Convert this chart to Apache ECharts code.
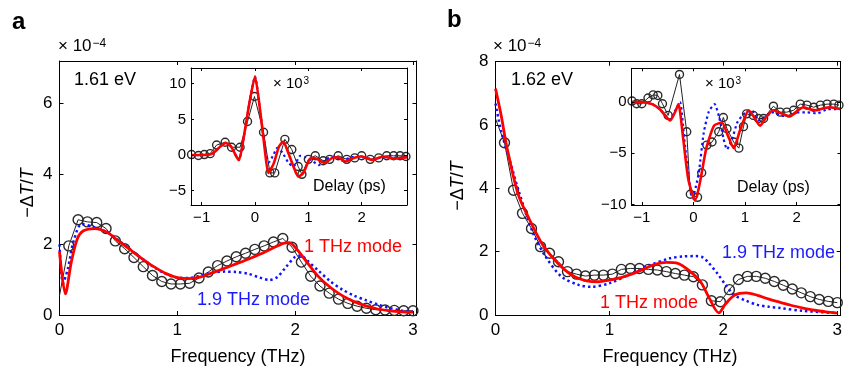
<!DOCTYPE html>
<html><head><meta charset="utf-8">
<script src="https://cdn.jsdelivr.net/npm/echarts@6/dist/echarts.min.js"></script>
<style>html,body{margin:0;padding:0;background:#fff}#c{width:845px;height:369px}</style>
</head><body><div id="c"></div>
<script>
// ---------- DATA ----------
const freqX = [0, 0.079, 0.158, 0.237, 0.316, 0.395, 0.474, 0.553, 0.632, 0.711, 0.789, 0.868, 0.947, 1.026, 1.105, 1.184, 1.263, 1.342, 1.421, 1.5, 1.579, 1.658, 1.737, 1.816, 1.895, 1.974, 2.053, 2.132, 2.211, 2.289, 2.368, 2.447, 2.526, 2.605, 2.684, 2.763, 2.842, 2.921, 3.0];
const measA = [0.55, 1.96, 2.70, 2.64, 2.62, 2.45, 2.10, 1.88, 1.63, 1.37, 1.12, 0.95, 0.88, 0.88, 0.90, 1.05, 1.22, 1.40, 1.53, 1.65, 1.75, 1.86, 1.96, 2.07, 2.17, 1.92, 1.50, 1.10, 0.82, 0.62, 0.45, 0.33, 0.25, 0.19, 0.15, 0.14, 0.13, 0.12, 0.12];
const measB = [6.2, 5.44, 3.94, 3.21, 2.73, 2.16, 1.95, 1.68, 1.37, 1.29, 1.23, 1.26, 1.26, 1.29, 1.44, 1.47, 1.47, 1.44, 1.42, 1.37, 1.31, 1.26, 1.21, 0.95, 0.45, 0.42, 0.80, 1.12, 1.22, 1.22, 1.16, 1.06, 0.94, 0.82, 0.70, 0.58, 0.49, 0.43, 0.39];

const redAx = [0, 0.05, 0.1, 0.15, 0.2, 0.3, 0.4, 0.5, 0.6, 0.7, 0.8, 0.9, 1.0, 1.1, 1.2, 1.3, 1.4, 1.5, 1.6, 1.7, 1.8, 1.9, 1.95, 2.0, 2.1, 2.2, 2.3, 2.4, 2.5, 2.6, 2.7, 2.8, 2.9, 3.0];
const redAy = [1.8, 0.6, 1.5, 2.15, 2.38, 2.45, 2.35, 2.1, 1.85, 1.6, 1.37, 1.18, 1.06, 1.03, 1.08, 1.2, 1.32, 1.45, 1.58, 1.72, 1.88, 2.03, 2.05, 1.92, 1.5, 1.08, 0.78, 0.55, 0.38, 0.26, 0.17, 0.12, 0.09, 0.08];
const blueAx = [0, 0.03, 0.07, 0.12, 0.19, 0.28, 0.4, 0.5, 0.6, 0.7, 0.8, 0.9, 1.0, 1.1, 1.2, 1.3, 1.4, 1.5, 1.6, 1.7, 1.78, 1.85, 1.92, 2.0, 2.05, 2.1, 2.2, 2.3, 2.4, 2.5, 2.6, 2.7, 2.8, 2.9, 3.0];
const blueAy = [2.0, 0.9, 1.3, 2.1, 2.58, 2.5, 2.35, 2.12, 1.86, 1.6, 1.36, 1.17, 1.06, 1.05, 1.12, 1.2, 1.23, 1.22, 1.17, 1.06, 0.99, 1.08, 1.35, 1.65, 1.68, 1.55, 1.25, 0.95, 0.72, 0.55, 0.42, 0.3, 0.2, 0.13, 0.09];

const redBx = [0, 0.05, 0.1, 0.2, 0.3, 0.4, 0.5, 0.6, 0.7, 0.8, 0.9, 1.0, 1.1, 1.2, 1.3, 1.4, 1.5, 1.6, 1.7, 1.8, 1.87, 1.96, 2.02, 2.1, 2.2, 2.3, 2.4, 2.5, 2.6, 2.7, 2.8, 2.9, 3.0];
const redBy = [7.15, 6.3, 5.3, 3.8, 3.0, 2.3, 1.82, 1.45, 1.2, 1.08, 1.05, 1.1, 1.18, 1.3, 1.45, 1.6, 1.66, 1.63, 1.4, 1.05, 0.58, 0.07, 0.35, 0.63, 0.70, 0.62, 0.5, 0.4, 0.3, 0.22, 0.15, 0.1, 0.06];
const blueBx = [0, 0.05, 0.125, 0.21, 0.33, 0.44, 0.58, 0.73, 0.84, 1.0, 1.19, 1.36, 1.53, 1.65, 1.76, 1.82, 1.87, 1.95, 2.02, 2.1, 2.2, 2.3, 2.4, 2.5, 2.7, 3.0];
const blueBy = [6.68, 5.8, 4.89, 3.84, 2.58, 1.84, 1.21, 0.95, 0.89, 1.0, 1.31, 1.58, 1.79, 1.85, 1.86, 1.82, 1.65, 1.3, 0.95, 0.62, 0.45, 0.32, 0.26, 0.22, 0.13, 0.06];

// insets (delay in ps, value x10^3)
const inMeasAx = [-1.19, -1.06, -0.95, -0.84, -0.72, -0.56, -0.44, -0.28, -0.14, -0.01, 0.16, 0.28, 0.37, 0.56, 0.69, 0.81, 0.88, 1.0, 1.13, 1.28, 1.4, 1.56, 1.72, 1.87, 2.0, 2.16, 2.32, 2.47, 2.6, 2.72, 2.83];
const inMeasAy = [0.07, -0.07, 0.07, 0.2, 1.4, 1.8, 1.1, 1.1, 4.7, 8.2, 3.2, -2.5, -2.5, 2.2, 0.77, -1.6, -2.7, -0.6, -0.1, -0.8, -0.6, -0.1, -0.6, -0.4, -0.1, -0.6, -0.4, -0.1, -0.1, -0.1, -0.2];
const inRedAx = [-1.2, -1.0, -0.8, -0.65, -0.55, -0.45, -0.35, -0.3, -0.2, -0.1, 0, 0.1, 0.18, 0.25, 0.35, 0.45, 0.53, 0.62, 0.72, 0.81, 0.9, 1.05, 1.15, 1.3, 1.45, 1.55, 1.7, 1.85, 2.0, 2.2, 2.4, 2.6, 2.85];
const inRedAy = [0, 0, 0.2, 1.2, 1.7, 1.2, -0.2, -0.7, 3.0, 7.5, 11.0, 6.0, 1.0, -2.5, -1.2, 1.2, 1.9, 0.4, -1.6, -3.0, -2.6, -0.4, -0.5, -1.1, -0.4, -0.3, -0.9, -0.4, -0.2, -0.7, -0.2, -0.5, -0.3];
const inBlueAx = [-1.2, -1.0, -0.8, -0.65, -0.55, -0.45, -0.35, -0.3, -0.2, -0.1, 0, 0.1, 0.2, 0.26, 0.33, 0.42, 0.52, 0.62, 0.72, 0.85, 0.95, 1.05, 1.2, 1.35, 1.5, 1.65, 1.8, 2.0, 2.2, 2.4, 2.6, 2.85];
const inBlueAy = [0, 0, 0.2, 1.2, 1.7, 1.2, -0.2, -0.7, 3.0, 7.5, 11.0, 6.0, 0.5, -1.0, -0.2, 1.0, 0.3, -1.0, -1.6, -0.1, -0.3, -0.7, -1.4, -0.5, -0.2, -0.8, -0.3, -0.3, -0.6, -0.3, -0.4, -0.3];

const inMeasBx = [-1.19, -1.1, -1.0, -0.88, -0.78, -0.69, -0.6, -0.49, -0.27, -0.13, -0.06, 0.08, 0.16, 0.26, 0.36, 0.49, 0.58, 0.65, 0.78, 0.88, 0.97, 1.03, 1.16, 1.26, 1.36, 1.55, 1.68, 1.81, 1.94, 2.07, 2.2, 2.33, 2.46, 2.59, 2.72, 2.82];
const inMeasBy = [0.1, -0.16, -0.16, 0.4, 0.7, 0.65, -0.16, -1.3, 2.7, -2.9, -9.0, -9.3, -6.9, -4.2, -3.9, -2.9, -1.5, -2.6, -3.9, -4.5, -2.4, -1.15, -1.3, -1.6, -1.6, -0.4, -0.98, -0.98, -0.8, -0.2, -0.3, -0.5, -0.3, -0.2, -0.2, -0.3];
const inRedBx = [-1.2, -1.0, -0.8, -0.65, -0.45, -0.35, -0.29, -0.2, -0.1, 0.03, 0.12, 0.25, 0.4, 0.55, 0.67, 0.78, 0.9, 1.07, 1.18, 1.29, 1.42, 1.55, 1.7, 1.87, 2.0, 2.13, 2.26, 2.39, 2.52, 2.65, 2.84];
const inRedBy = [0, 0, -0.2, -0.7, -1.8, -0.9, -0.2, -3.5, -7.5, -9.6, -8.0, -4.5, -2.3, -2.0, -3.3, -4.5, -2.8, -0.8, -1.5, -2.3, -1.4, -0.8, -1.1, -1.4, -0.9, -0.5, -0.7, -0.8, -0.6, -0.5, -0.65];
const inBlueBx = [-1.2, -1.0, -0.8, -0.65, -0.45, -0.35, -0.26, -0.18, -0.1, -0.02, 0.1, 0.2, 0.3, 0.41, 0.5, 0.58, 0.65, 0.75, 0.85, 0.97, 1.13, 1.25, 1.4, 1.55, 1.7, 1.85, 2.0, 2.2, 2.4, 2.6, 2.85];
const inBlueBy = [0, 0, -0.2, -0.7, -1.7, -0.8, 0.0, -3.5, -7.0, -9.4, -7.0, -3.0, -0.9, -0.2, -1.5, -3.5, -4.6, -3.6, -2.0, -1.2, -0.8, -1.8, -1.4, -1.0, -1.3, -1.4, -1.0, -1.0, -1.1, -0.7, -0.7];

const freqTicks = [0, 1, 2, 3];
const yTicksA = [0, 2, 4, 6];
const yTicksB = [0, 2, 4, 6, 8];
const delayTicks = [-1, 0, 1, 2];
const inYTicksA = [-5, 0, 5, 10];
const inYTicksB = [-10, -5, 0];

// ---------- CHART ----------
const FONT = '"Liberation Sans", Arial, Helvetica, sans-serif';
const fmt = v => String(v).replace('-', '\u2212');
const zip = (xs, ys) => xs.map((x, i) => [x, ys[i]]);

function axisPair(kind, grid, min, max, ticks, fs, tl, lm, z) {
  const base = {type: 'value', gridIndex: grid, min: min, max: max, z: z, splitLine: {show: false},
    axisLine: {show: true, onZero: false, lineStyle: {color: '#000', width: 1}},
    axisTick: {show: true, inside: true, length: tl, customValues: ticks, lineStyle: {color: '#000'}}};
  const p = kind === 'x' ? ['bottom', 'top'] : ['left', 'right'];
  return [
    Object.assign({}, base, {position: p[0], axisLabel: {show: true, customValues: ticks, formatter: fmt, fontSize: fs, fontFamily: FONT, color: '#000', margin: lm}}),
    Object.assign({}, base, {position: p[1], axisLabel: {show: false}})
  ];
}

const xAxis = [].concat(
  axisPair('x', 0, 0, 3.03, freqTicks, 17, 4, 7, 1),
  axisPair('x', 1, 0, 3.03, freqTicks, 17, 4, 7, 1),
  axisPair('x', 2, -1.2, 2.85, delayTicks, 15, 3, 5, 12),
  axisPair('x', 3, -1.2, 2.85, delayTicks, 15, 3, 5, 12)
);
const yAxis = [].concat(
  axisPair('y', 0, 0, 7.2, yTicksA, 17, 4, 7, 1),
  axisPair('y', 1, 0, 8, yTicksB, 17, 4, 7, 1),
  axisPair('y', 2, -7, 12.2, inYTicksA, 15, 3, 5, 12),
  axisPair('y', 3, -10.05, 3.3, inYTicksB, 15, 3, 5, 12)
);

function meas(xs, ys, ax, size, z, skipFirst) {
  return {type: 'line', xAxisIndex: ax, yAxisIndex: ax, data: zip(xs, ys), z: z,
    symbol: 'circle', showSymbol: true,
    symbolSize: (v, p) => (skipFirst && p.dataIndex === 0) ? 0 : size,
    itemStyle: {color: 'rgba(0,0,0,0)', borderColor: '#2a2a2a', borderWidth: 1.4},
    lineStyle: {color: '#222', width: 1}, emphasis: {disabled: true}};
}
function fit(xs, ys, ax, color, dotted, w, z, sm) {
  return {type: 'line', xAxisIndex: ax, yAxisIndex: ax, data: zip(xs, ys), z: z,
    showSymbol: false, symbol: 'none', smooth: sm,
    lineStyle: {color: color, width: w, type: dotted ? [2.4, 3] : 'solid'}, emphasis: {disabled: true}};
}

const series = [
  meas(freqX, measA, 0, 10, 2, true),
  fit(blueAx, blueAy, 0, '#1010ff', true, 2.5, 3, 0.3),
  fit(redAx, redAy, 0, '#ff0000', false, 2.8, 4, 0.3),
  meas(freqX, measB, 2, 10, 2, true),
  fit(blueBx, blueBy, 2, '#1010ff', true, 2.5, 3, 0.3),
  fit(redBx, redBy, 2, '#ff0000', false, 2.8, 4, 0.3),
  meas(inMeasAx, inMeasAy, 4, 8, 7, false),
  fit(inBlueAx, inBlueAy, 4, '#1010ff', true, 2.2, 8, 0.2),
  fit(inRedAx, inRedAy, 4, '#ff0000', false, 2.6, 9, 0.2),
  meas(inMeasBx, inMeasBy, 6, 8, 7, false),
  fit(inBlueBx, inBlueBy, 6, '#1010ff', true, 2.2, 8, 0.2),
  fit(inRedBx, inRedBy, 6, '#ff0000', false, 2.6, 9, 0.2)
];

function txt(x, y, text, size, color, extra) {
  return {type: 'text', x: x, y: y, z: 20, silent: true,
    style: Object.assign({text: text, fill: color || '#000', fontSize: size, fontFamily: FONT,
      align: 'left', verticalAlign: 'middle', textAlign: 'left', textVerticalAlign: 'middle',
      rich: {sup: {fontSize: Math.round(size * 0.68), fontFamily: FONT, fill: color || '#000', verticalAlign: 'top', padding: [0, 0, 0, 1]},
             i: {fontSize: size, fontFamily: FONT, fontStyle: 'italic', fill: color || '#000'}}}, extra || {})};
}
function ylab(x, y) {
  const t = txt(x, y, '\u2212\u0394{i|T}/{i|T}', 18);
  t.rotation = Math.PI / 2;
  t.style.align = 'center'; t.style.textAlign = 'center';
  return t;
}

const graphic = [
  txt(12, 22, 'a', 24, '#000', {fontWeight: 'bold'}),
  txt(447, 20, 'b', 24, '#000', {fontWeight: 'bold'}),
  txt(58, 46, '\u00d7 10{sup|\u22124}', 17),
  txt(493, 46, '\u00d7 10{sup|\u22124}', 17),
  ylab(28, 193),
  ylab(458, 186),
  txt(74, 80, '1.61 eV', 18),
  txt(511, 80, '1.62 eV', 18),
  txt(273, 84, '\u00d7 10{sup|3}', 15),
  txt(705, 84, '\u00d7 10{sup|3}', 15),
  txt(313, 187, 'Delay (ps)', 16),
  txt(737, 188, 'Delay (ps)', 16),
  txt(304, 247, '1 THz mode', 18, '#ff0000'),
  txt(197, 300, '1.9 THz mode', 18, '#1a1aff'),
  txt(722, 253, '1.9 THz mode', 18, '#1a1aff'),
  txt(600, 303, '1 THz mode', 18, '#ff0000'),
  txt(238, 357, 'Frequency (THz)', 18, '#000', {align: 'center', textAlign: 'center'}),
  txt(670, 357, 'Frequency (THz)', 18, '#000', {align: 'center', textAlign: 'center'})
];

const chart = echarts.init(document.getElementById('c'), null, {renderer: 'canvas'});
chart.setOption({
  animation: false,
  backgroundColor: '#fff',
  grid: [
    {left: 59.5, top: 61, width: 357, height: 254, show: false, containLabel: false},
    {left: 495.5, top: 61.7, width: 352, height: 253.3, show: false, containLabel: false},
    {left: 191, top: 68, width: 216, height: 137, show: true, backgroundColor: '#fff', borderWidth: 0, z: 5, containLabel: false},
    {left: 631.5, top: 68.3, width: 209, height: 136.7, show: true, backgroundColor: '#fff', borderWidth: 0, z: 5, containLabel: false}
  ],
  xAxis: xAxis,
  yAxis: yAxis,
  series: series,
  graphic: graphic
});
</script></body></html>
